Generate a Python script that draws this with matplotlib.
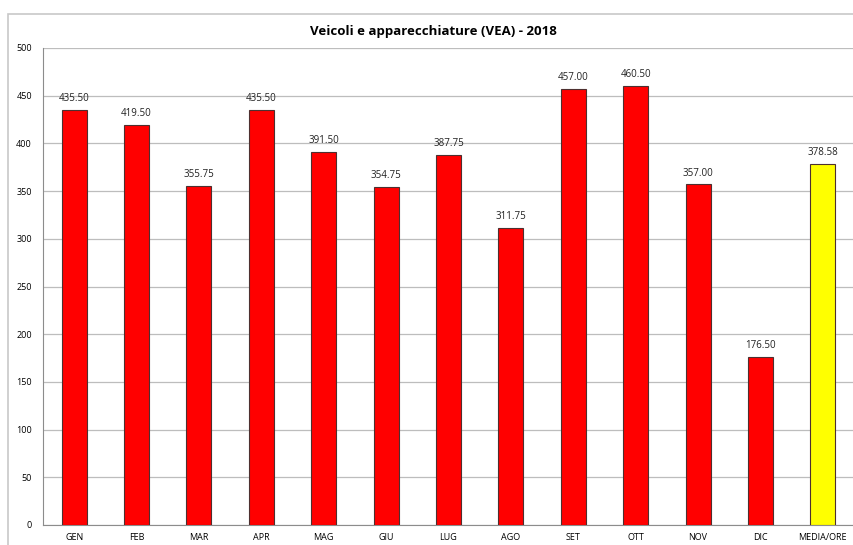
import numpy as np
import matplotlib.pyplot as plt
from matplotlib.patches import Rectangle

mesi = ['GEN', 'FEB', 'MAR', 'APR', 'MAG', 'GIU', 'LUG', 'AGO', 'SET', 'OTT', 'NOV', 'DIC', 'MEDIA/ORE']
valori = [435.50, 419.50, 355.75, 435.50, 391.50, 354.75, 387.75, 311.75, 457.00, 460.50, 357.00, 176.50, 378.58]
colori = ['#ff0000'] * 12 + ['#ffff00']

plt.rcParams['font.family'] = ['Open Sans', 'DejaVu Sans']

fig = plt.figure(figsize=(8.54, 5.45), dpi=100)
# cornice esterna del grafico
fig.patches.append(Rectangle((8 / 854, -0.1), 1.2, 1 - 14 / 545 + 0.1, transform=fig.transFigure,
                             fill=False, edgecolor='#c8c8c8', linewidth=1.2))
ax = fig.add_axes([43 / 854, 20 / 545, 1 - 43 / 854, 1 - 48 / 545 - 20 / 545])

x = np.arange(len(mesi))
ax.bar(x, valori, width=0.4, color=colori, edgecolor='#4d3030', linewidth=0.8, zorder=3)
for xi, v in zip(x, valori):
    ax.text(xi, v + 6, '{:.2f}'.format(v), ha='center', va='bottom', fontsize=7, color='#222222')

ax.set_xlim(-0.5, len(mesi) - 0.5)
ax.set_ylim(0, 500)
ax.set_yticks(np.arange(0, 501, 50))
ax.yaxis.grid(True, color='#bdbdbd', linewidth=0.9, zorder=0)
ax.set_xticks(x)
ax.set_xticklabels(mesi)
ax.tick_params(axis='both', length=0, labelsize=6.5)
ax.tick_params(axis='y', pad=8)
ax.tick_params(axis='x', pad=6)
for s in ['top', 'right']:
    ax.spines[s].set_visible(False)
ax.spines['left'].set_color('#8c8c8c')
ax.spines['bottom'].set_color('#8c8c8c')

fig.text(433 / 854, 1 - 31 / 545, 'Veicoli e apparecchiature (VEA) - 2018', ha='center', va='center',
         fontsize=9.5, fontweight='bold')

fig.savefig('out.png', dpi=100)
